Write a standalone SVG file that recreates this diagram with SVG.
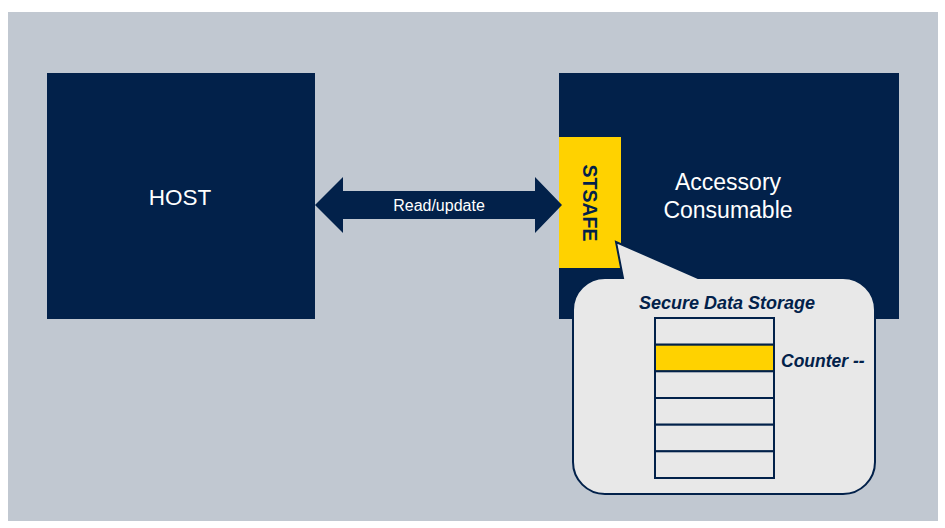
<svg xmlns="http://www.w3.org/2000/svg" width="945" height="528" viewBox="0 0 945 528">
<style>
.navy{fill:#02214A}
.wt{fill:#FFFFFF;font-family:"Liberation Sans",Arial,sans-serif;text-anchor:middle}
.lbl{fill:#02214A;font-family:"Liberation Sans",Arial,sans-serif;font-weight:bold;font-style:italic;font-size:17.5px}
.cell{fill:#E8E8E8;stroke:#02214A;stroke-width:2}
</style>
<rect x="0" y="0" width="945" height="528" fill="#FFFFFF"/>
<rect x="8" y="12" width="930" height="509" fill="#C1C8D1"/>
<g id="host">
<rect x="47" y="73" width="268" height="246" class="navy"/>
<text x="180" y="205" class="wt" font-size="22.5">HOST</text>
</g>
<g id="accessory">
<rect x="559" y="73" width="340" height="246" class="navy"/>
<text x="728" y="190" class="wt" font-size="23">Accessory</text>
<text x="728" y="218" class="wt" font-size="23">Consumable</text>
</g>
<g id="stsafe">
<rect x="559" y="137" width="62" height="131" fill="#FFD200"/>
<text transform="translate(590,203) rotate(90)" x="0" y="7" text-anchor="middle" font-family="'Liberation Sans',Arial,sans-serif" font-weight="bold" font-size="19.5" fill="#02214A">STSAFE</text>
</g>
<g id="connectors">
<polygon points="315,205 343,177 343,191 535,191 535,177 562,205 535,233 535,219 343,219 343,233" class="navy"/>
<text x="439" y="211" class="wt" font-size="16">Read/update</text>
</g>
<g id="callout">
<path d="M605,278 L623,278 L616,242 L698,278 L843,278 A32,32 0 0 1 875,310 L875,462 A32,32 0 0 1 843,494 L605,494 A32,32 0 0 1 573,462 L573,310 A32,32 0 0 1 605,278 Z" fill="#E8E8E8" stroke="#02214A" stroke-width="2"/>
<text x="727" y="309" class="lbl" text-anchor="middle" style="font-size:18px">Secure Data Storage</text>
</g>
<g id="storage">
<rect x="655" y="318" width="119" height="26.7" class="cell"/>
<rect x="655" y="344.7" width="119" height="26.7" class="cell" style="fill:#FFD200"/>
<rect x="655" y="371.3" width="119" height="26.7" class="cell"/>
<rect x="655" y="398" width="119" height="26.7" class="cell"/>
<rect x="655" y="424.7" width="119" height="26.7" class="cell"/>
<rect x="655" y="451.3" width="119" height="26.7" class="cell"/>
<text x="781" y="367" class="lbl">Counter --</text>
</g>
</svg>
